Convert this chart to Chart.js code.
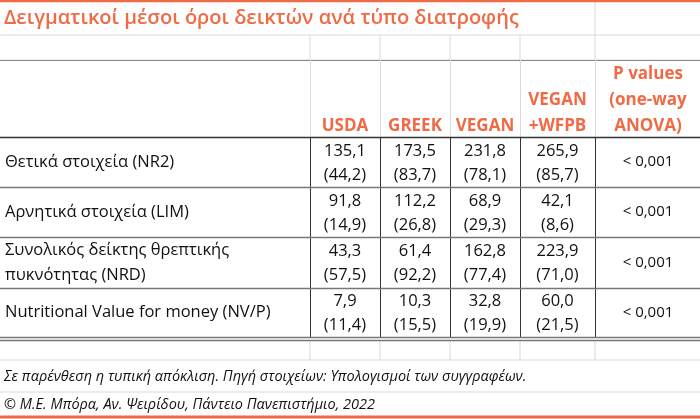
<!DOCTYPE html>
<html><head><meta charset="utf-8">
<script src="https://cdn.jsdelivr.net/npm/chart.js@4"></script>
<style>html,body{margin:0;background:#fff}#wrap{width:700px;height:419px}</style>
</head><body><div id="wrap"><canvas id="c"></canvas></div>
<script>
// Data
const title = 'Δειγματικοί μέσοι όροι δεικτών ανά τύπο διατροφής';
const diets = ['USDA', 'GREEK', 'VEGAN', 'VEGAN\n+WFPB'];
const pHeader = 'P values\n(one-way\nANOVA)';
const rowLabels = ['Θετικά στοιχεία (NR2)', 'Αρνητικά στοιχεία (LIM)', 'Συνολικός δείκτης θρεπτικής\nπυκνότητας (NRD)', 'Nutritional Value for money (NV/P)'];
const means = [[135.1,173.5,231.8,265.9],[91.8,112.2,68.9,42.1],[43.3,61.4,162.8,223.9],[7.9,10.3,32.8,60.0]];
const sds = [[44.2,83.7,78.1,85.7],[14.9,26.8,29.3,8.6],[57.5,92.2,77.4,71.0],[11.4,15.5,19.9,21.5]];
const pValues = ['< 0,001','< 0,001','< 0,001','< 0,001'];
const note = 'Σε παρένθεση η τυπική απόκλιση. Πηγή στοιχείων: Υπολογισμοί των συγγραφέων.';
const credit = '© Μ.Ε. Μπόρα, Αν. Ψειρίδου, Πάντειο Πανεπιστήμιο, 2022';

// layout
const colEdges = [0, 310, 380, 450, 520, 595, 700];
const rowEdges = [137, 187, 237, 288, 337];
const ORANGE = '#ef6a45', FONT = '"Open Sans", sans-serif';
const fmt = v => v.toFixed(1).replace('.', ',');

const tablePlugin = {
  id: 'table',
  afterDraw(chart) {
    const c = chart.ctx;
    const line = (x1,y1,x2,y2,col,w) => { c.strokeStyle=col; c.lineWidth=w; c.beginPath(); c.moveTo(x1,y1); c.lineTo(x2,y2); c.stroke(); };
    const txt = (s,x,y,align,font,col) => { c.font=font; c.fillStyle=col; c.textAlign=align; c.textBaseline='middle'; c.fillText(s,x,y); };
    c.save();
    // light grid
    const G = '#d9d9d9';
    [35,60,360,392].forEach(y => line(0,y,700,y,G,1));
    line(595,0,595,35,G,1);
    [310,380,450,520,595].forEach(x => { line(x,35,x,60,G,1); line(x,340,x,360,G,1); });
    // header borders
    line(0,60.5,700,60.5,'#888',1);
    [310,380,450,520,595].forEach(x => line(x+0.5,60,x+0.5,137,G,1));
    [310,380,450,520,595].forEach(x => line(x+0.5,137,x+0.5,337,'#333',1));
    rowEdges.forEach((y,i) => line(0,y+0.5,700,y+0.5,i===0?'#333':'#777',i===0?1.3:1.5));
    line(0,340.5,700,340.5,'#777',1.5);
    // orange frame lines
    line(0,1,700,1,ORANGE,2.5);
    line(0,417,700,417,ORANGE,3);
    // title
    txt(title,4,18,'left','600 20px '+FONT,ORANGE);
    // header
    const hf = 'bold 17px '+FONT;
    diets.forEach((d,i) => {
      const cx=(colEdges[i+1]+colEdges[i+2])/2, ls=d.split('\n');
      ls.forEach((l,k) => txt(l,cx,126-(ls.length-1-k)*26,'center',hf,ORANGE));
    });
    pHeader.split('\n').forEach((l,k) => txt(l,648,74+k*26,'center',hf,ORANGE));
    // rows
    const bf = '16.5px '+FONT;
    rowLabels.forEach((lab,r) => {
      const y0=rowEdges[r], y1=rowEdges[r+1], mid=(y0+y1)/2;
      const ls=lab.split('\n');
      ls.forEach((l,k) => txt(l,5,mid+(k-(ls.length-1)/2)*25,'left',bf,'#111'));
      means[r].forEach((m,i) => {
        const cx=(colEdges[i+1]+colEdges[i+2])/2;
        txt(fmt(m),cx,mid-11,'center',bf,'#111');
        txt('('+fmt(sds[r][i])+')',cx,mid+13,'center',bf,'#111');
      });
      txt(pValues[r],648,mid,'center','15px '+FONT,'#111');
    });
    txt(note,4,377,'left','italic 14.5px '+FONT,'#111');
    txt(credit,4,405,'left','italic 14.5px '+FONT,'#111');
    c.restore();
  }
};

new Chart(document.getElementById('c'), {
  type: 'bar',
  data: { labels: diets, datasets: [{ data: [] }] },
  options: {
    responsive: true, maintainAspectRatio: false, animation: false,
    layout: { padding: 0 },
    plugins: { legend: { display: false }, tooltip: { enabled: false } },
    scales: { x: { display: false }, y: { display: false } }
  },
  plugins: [tablePlugin]
});
</script></body></html>
